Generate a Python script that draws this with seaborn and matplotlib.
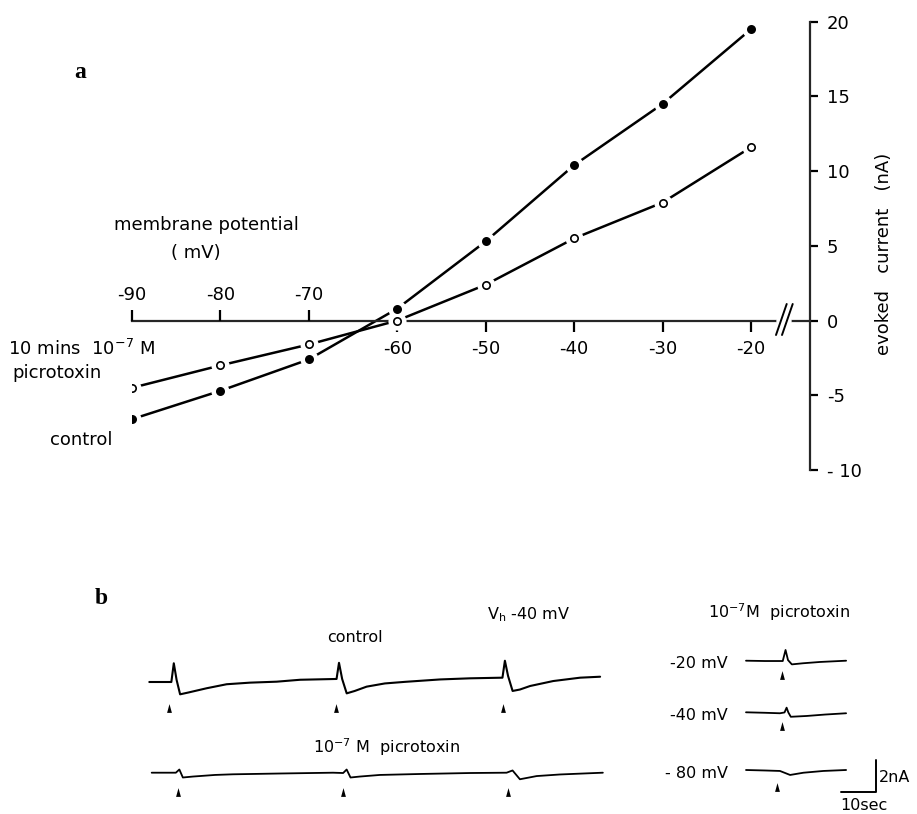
import numpy as np
import pandas as pd
import seaborn as sns
import matplotlib.pyplot as plt

# ---- panel a: evoked current vs membrane potential ----
potential = [-90, -80, -70, -60, -50, -40, -30, -20]
control_na = [-6.6, -4.7, -2.6, 0.8, 5.3, 10.4, 14.5, 19.5]
picrotoxin_na = [-4.5, -3.0, -1.6, 0.0, 2.4, 5.5, 7.9, 11.6]

top_ticks = [-90, -80, -70]
top_labels = ['-90', '-80', '-70']
bottom_ticks = [-60, -50, -40, -30, -20]
bottom_labels = ['-60', '-50', '-40', '-30', '-20']
y_ticks = [-10, -5, 0, 5, 10, 15, 20]
y_labels = ['- 10', '-5', '0', '5', '10', '15', '20']

# ---- panel b: current traces, time (s) and current (nA) from trace start / baseline ----
ctrl_t = [0, 6.3, 7.0, 7.8, 8.8, 11.1, 16.4, 22.1, 28.8, 36.4, 43.1, 53.5, 54.2, 55.1,
          56.4, 58.7, 62.1, 67.3, 73.1, 83.1, 91.6, 100.9, 101.6, 102.5, 103.8, 105.9,
          108.8, 115.4, 123.1, 128.8]
ctrl_i = [0, 0, 1.17, 0.13, -0.77, -0.66, -0.39, -0.14, -0.04, 0.02, 0.14, 0.19, 1.2, 0.19,
          -0.71, -0.56, -0.29, -0.09, 0.01, 0.16, 0.23, 0.27, 1.33, 0.38, -0.56, -0.47,
          -0.25, 0.06, 0.27, 0.33]
ctrl_stim = [5.7, 53.3, 101.0]

picro_t = [0, 6.9, 7.9, 8.9, 11.8, 18.1, 23.2, 36.7, 51.8, 54.7, 55.7, 56.8, 59.5, 65.2,
           76.7, 90.9, 101.4, 103.1, 105.2, 110.0, 116.7, 128.9]
picro_i = [0, 0, 0.2, -0.3, -0.24, -0.14, -0.1, -0.05, 0, -0.02, 0.2, -0.3, -0.24, -0.14,
           -0.08, -0.02, 0, 0.14, -0.41, -0.21, -0.11, 0]
picro_stim = [7.4, 54.6, 101.8]

m20_t = [0, 5.4, 10.5, 11.3, 12.0, 13.1, 16.3, 21.1, 28.6]
m20_i = [0, -0.02, -0.02, 0.67, 0.04, -0.23, -0.16, -0.08, 0]
m20_stim = [10.4]

m40_t = [0, 5.4, 9.7, 11.0, 11.6, 12.1, 12.8, 17.3, 22.6, 28.6]
m40_i = [0, -0.03, -0.06, -0.01, 0.29, -0.01, -0.28, -0.23, -0.14, -0.06]
m40_stim = [10.2]

m80_t = [0, 5.4, 9.7, 12.6, 16.4, 22.1, 28.6]
m80_i = [0, -0.03, -0.06, -0.31, -0.17, -0.06, 0]
m80_stim = [8.8]

scale_sec = 10
scale_na = 2

sns.set_theme(style='ticks')
plt.rcParams['font.family'] = ['DejaVu Sans']
plt.rcParams['axes.unicode_minus'] = False
plt.rcParams['text.color'] = 'black'
plt.rcParams['axes.labelcolor'] = 'black'

W, H = 917, 814
fig = plt.figure(figsize=(W / 100, H / 100), dpi=100)


def fx(px):
    return px / W


def fy(py):
    return 1 - py / H


# axes placed so that -90 mV sits at px 132, -20 mV at px 751, right spine at px 810
ax = fig.add_axes([fx(132), fy(470), (810 - 132) / W, (470 - 21.7) / H])
px_per_mv = (751 - 132) / 70
ax.set_xlim(-90, -20 + (810 - 751) / px_per_mv)
ax.set_ylim(-10, 20)

df_a = pd.DataFrame({
    'potential': potential * 2,
    'current': control_na + picrotoxin_na,
    'condition': ['control'] * len(potential) + ['picrotoxin'] * len(potential),
})
sns.lineplot(data=df_a, x='potential', y='current', units='condition', estimator=None,
             color='black', lw=1.8, ax=ax, zorder=1)
# white halo -> gap in the line around each point
sns.scatterplot(data=df_a, x='potential', y='current', s=170, color='white',
                linewidth=0, ax=ax, zorder=3, legend=False)
sns.scatterplot(x=potential, y=control_na, s=42, color='black', linewidth=0,
                ax=ax, zorder=4, legend=False)
sns.scatterplot(x=potential, y=picrotoxin_na, s=28, color='white', edgecolor='black',
                linewidth=1.2, ax=ax, zorder=4, legend=False)

lw_axis = 1.6
ax.spines['left'].set_visible(False)
ax.spines['top'].set_visible(False)
ax.spines['bottom'].set_position(('data', 0))
ax.spines['bottom'].set_linewidth(lw_axis)
ax.spines['right'].set_linewidth(lw_axis)
ax.yaxis.tick_right()
ax.set_yticks(y_ticks, labels=y_labels)
ax.set_xticks(bottom_ticks, labels=bottom_labels)
ax.tick_params(axis='y', right=True, left=False, labelright=True, labelleft=False,
               direction='out', length=6, width=lw_axis, pad=6, labelsize=13, colors='black')
ax.tick_params(axis='x', bottom=True, direction='out', length=8, width=lw_axis, pad=6,
               labelsize=13, colors='black')
ax.set_xlabel('')
ax.yaxis.set_label_position('right')
ax.set_ylabel('evoked   current   (nA)', fontsize=13, rotation=90)
ax.yaxis.set_label_coords(1.096, 0.482)

# upper ticks for -90..-70 on the same axis line
ax2 = ax.twiny()
ax2.set_xlim(ax.get_xlim())
ax2.spines['top'].set_position(('data', 0))
for s in ax2.spines.values():
    s.set_visible(False)
ax2.set_xticks(top_ticks, labels=top_labels)
ax2.tick_params(axis='x', top=True, bottom=False, labeltop=True, labelbottom=False,
                direction='out', length=8, width=lw_axis, pad=4, labelsize=13, colors='black')

# axis break
ax.plot([fx(779), fx(789)], [fy(320.5), fy(320.5)], transform=fig.transFigure,
        color='white', lw=4, zorder=6, clip_on=False)
ax.plot([fx(776), fx(786.7)], [fy(335), fy(304)], transform=fig.transFigure,
        color='black', lw=1.4, zorder=7, clip_on=False)
ax.plot([fx(782), fx(792.7)], [fy(335), fy(304)], transform=fig.transFigure,
        color='black', lw=1.4, zorder=7, clip_on=False)

fig.text(fx(80), fy(72), 'a', fontsize=17, fontweight='bold', family='Liberation Serif',
         ha='center', va='center')
fig.text(fx(206), fy(225), 'membrane potential', fontsize=13, ha='center', va='center')
fig.text(fx(196), fy(253), '( mV)', fontsize=13, ha='center', va='center')
fig.text(fx(8), fy(355), '10 mins  10$^{-7}$ M', fontsize=13, ha='left', va='baseline')
fig.text(fx(12), fy(378), 'picrotoxin', fontsize=13, ha='left', va='baseline')
fig.text(fx(50), fy(445), 'control', fontsize=13, ha='left', va='baseline')

# ---- panel b ----
axb = fig.add_axes([fx(100), 0, (W - 100) / W, (814 - 590) / H])
axb.axis('off')


def tb(px):
    return (px - 100) / 3.5


def ib(py):
    return (814 - py) / 16


arrow = [(-0.55, -1), (0.55, -1), (0, 1), (-0.55, -1)]

# trace, start px, baseline px, arrow depth px, line width
traces = [
    (ctrl_t, ctrl_i, ctrl_stim, 149.3, 682, 26, 1.5),
    (picro_t, picro_i, picro_stim, 151.7, 772.7, 19, 1.3),
    (m20_t, m20_i, m20_stim, 746, 660.7, 14.5, 1.3),
    (m40_t, m40_i, m40_stim, 746, 712.3, 13.5, 1.3),
    (m80_t, m80_i, m80_stim, 746, 770, 17, 1.3),
]
for t, i, stim, x0, y0, drop, lw in traces:
    sns.lineplot(x=np.array(t) + tb(x0), y=np.array(i) + ib(y0), ax=axb, color='black',
                 lw=lw, estimator=None, sort=False)
    axb.scatter(np.array(stim) + tb(x0), [ib(y0 + drop)] * len(stim), marker=arrow,
                s=40, color='black', linewidths=0)
axb.set_xlim(0, (W - 100) / 3.5)   # 3.5 px per second
axb.set_ylim(0, (814 - 590) / 16)  # 16 px per nA

# scale bar
sx, sy = tb(841), ib(792.3)
axb.plot([sx, sx + scale_sec, sx + scale_sec], [sy, sy, sy + scale_na], color='black', lw=1.4)

fig.text(fx(101), fy(598), 'b', fontsize=17, fontweight='bold', family='Liberation Serif',
         ha='center', va='center')
fig.text(fx(355), fy(641.7), 'control', fontsize=11.5, ha='center', va='baseline')
fig.text(fx(487), fy(619.3), 'V$_\\mathregular{h}$ -40 mV', fontsize=11.5, ha='left', va='baseline')
fig.text(fx(313), fy(753.3), '10$^{-7}$ M  picrotoxin', fontsize=11.5, ha='left', va='baseline')
fig.text(fx(708), fy(618.3), '10$^{-7}$M  picrotoxin', fontsize=11.5, ha='left', va='baseline')
fig.text(fx(728), fy(668.3), '-20 mV', fontsize=11.5, ha='right', va='baseline')
fig.text(fx(728), fy(720), '-40 mV', fontsize=11.5, ha='right', va='baseline')
fig.text(fx(728), fy(777.7), '- 80 mV', fontsize=11.5, ha='right', va='baseline')
fig.text(fx(878.5), fy(781.7), '2nA', fontsize=11.5, ha='left', va='baseline')
fig.text(fx(840), fy(810), '10sec', fontsize=11.5, ha='left', va='baseline')

fig.savefig('out.png', dpi=100, facecolor='white')
